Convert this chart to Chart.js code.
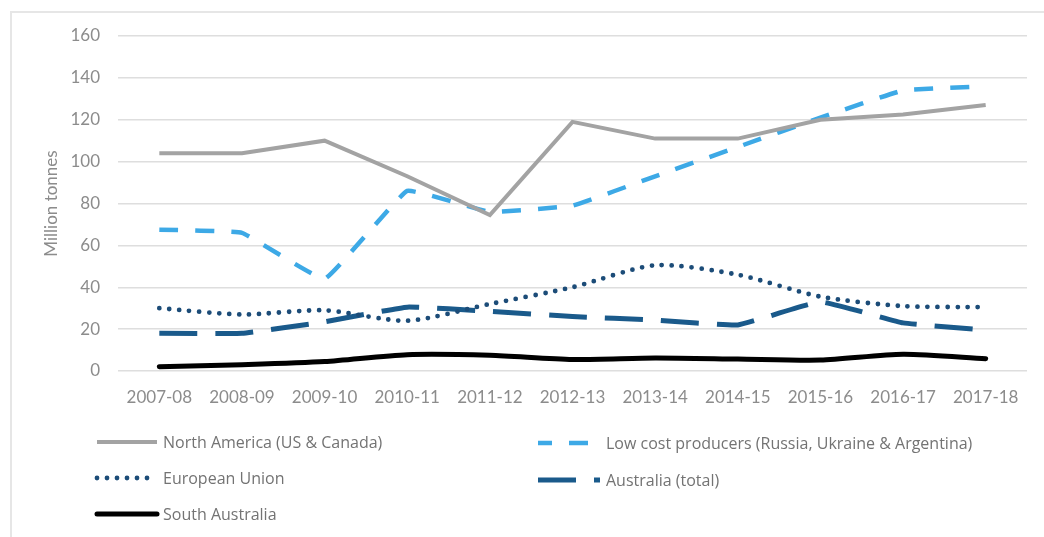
<!DOCTYPE html>
<html>
<head>
<meta charset="utf-8">
<title>Grain production by region</title>
<script src="https://cdn.jsdelivr.net/npm/chart.js@4/dist/chart.umd.min.js"></script>
<style>
  html, body { margin: 0; padding: 0; background: #fff; }
  #wrap { position: relative; width: 1044px; height: 537px; overflow: hidden; }
  #frame { position: absolute; left: 10px; top: 11px; right: -4px; bottom: -4px;
           border-left: 2px solid #e6e6e6; border-top: 2px solid #e6e6e6; }
  canvas { position: absolute; left: 0; top: 0; }
</style>
</head>
<body>
<div id="wrap">
  <div id="frame"></div>
  <canvas id="chart" width="1044" height="537"></canvas>
</div>
<script>
// Seasons along the horizontal axis
const seasons = ['2007-08', '2008-09', '2009-10', '2010-11', '2011-12', '2012-13',
                 '2013-14', '2014-15', '2015-16', '2016-17', '2017-18'];

// Production, million tonnes
const northAmerica   = [104, 104, 110, 93, 74.5, 119, 111, 111, 120, 122.5, 127];
const lowCost        = [67.5, 66, 44, 86, 76, 79, 93, 107, 121, 134, 136];
const europeanUnion  = [30, 27, 29, 24, 32, 40, 50.5, 46, 35.5, 31, 30.5];
const australiaTotal = [18, 18, 23.5, 30.5, 28.5, 26, 24.3, 22, 33, 23, 19.5];
const southAustralia = [2, 3, 4.5, 7.8, 7.5, 5.5, 6.2, 5.7, 5.2, 8, 5.9];

// Series names
const seriesNames = [
  'North America (US & Canada)',
  'Low cost producers (Russia, Ukraine & Argentina)',
  'European Union',
  'Australia (total)',
  'South Australia'
];

// Y axis range
const yMin = 0, yMax = 160, yStep = 20;

// Where each legend entry sits below the plot
const legendSlots = [
  { x: 97,  y: 442, len: 60, textX: 163, dashOffset: 0 },
  { x: 538, y: 443, len: 62, textX: 606, dashOffset: 5 },
  { x: 97,  y: 478, len: 58, textX: 163, dashOffset: 0 },
  { x: 538, y: 480, len: 62, textX: 606, dashOffset: 0 },
  { x: 97,  y: 514, len: 60, textX: 163, dashOffset: 0 }
];

const legendPlugin = {
  id: 'twoColumnLegend',
  afterDraw(chart) {
    const ctx = chart.ctx;
    chart.data.datasets.forEach((ds, i) => {
      const s = legendSlots[i];
      ctx.save();
      ctx.strokeStyle = ds.borderColor;
      ctx.lineWidth = ds.borderWidth;
      ctx.lineCap = ds.borderCapStyle || 'butt';
      ctx.setLineDash(ds.borderDash || []);
      ctx.lineDashOffset = s.dashOffset;
      ctx.beginPath();
      ctx.moveTo(s.x, s.y);
      ctx.lineTo(s.x + s.len, s.y);
      ctx.stroke();
      ctx.restore();
      ctx.save();
      ctx.fillStyle = '#737373';
      ctx.font = '16px "Open Sans", sans-serif';
      ctx.textBaseline = 'middle';
      ctx.fillText(ds.label, s.textX, s.y + 1);
      ctx.restore();
    });
  }
};

new Chart(document.getElementById('chart'), {
  type: 'line',
  data: {
    labels: seasons,
    datasets: [
      { label: seriesNames[0], data: northAmerica, borderColor: '#a3a3a3', borderWidth: 4,
        tension: 0, borderCapStyle: 'butt' },
      { label: seriesNames[1], data: lowCost, borderColor: '#3da9e6', borderWidth: 4.5,
        borderDash: [19, 17], tension: 0.08, borderCapStyle: 'butt' },
      { label: seriesNames[2], data: europeanUnion, borderColor: '#1c4c78', borderWidth: 4.8,
        borderDash: [0, 10], borderCapStyle: 'round', tension: 0.25 },
      { label: seriesNames[3], data: australiaTotal, borderColor: '#1a5a8b', borderWidth: 5,
        borderDash: [38, 18], tension: 0.1, borderCapStyle: 'butt' },
      { label: seriesNames[4], data: southAustralia, borderColor: '#000000', borderWidth: 5,
        tension: 0.25, borderCapStyle: 'round' }
    ]
  },
  options: {
    responsive: false,
    animation: false,
    layout: { padding: { top: 36, right: 17, bottom: 126, left: 0 } },
    elements: { point: { radius: 0, hoverRadius: 0 } },
    plugins: {
      legend: { display: false },
      tooltip: { enabled: false }
    },
    scales: {
      x: {
        offset: true,
        grid: { display: false, drawTicks: false },
        border: { display: false },
        ticks: {
          color: '#8c8c8c',
          font: { family: 'Lato', size: 17 },
          padding: 16,
          maxRotation: 0,
          autoSkip: false
        },
        afterFit(scale) { scale.height = 40; }
      },
      y: {
        min: yMin,
        max: yMax,
        grid: { color: '#dedede', lineWidth: 1.5, drawTicks: false },
        border: { display: false },
        ticks: {
          stepSize: yStep,
          color: '#8c8c8c',
          font: { family: 'Lato', size: 17 },
          padding: 18
        },
        title: {
          display: true,
          text: 'Million tonnes',
          color: '#8c8c8c',
          font: { family: 'Lato', size: 17 },
          padding: { top: 41, bottom: 0 }
        },
        afterFit(scale) { scale.width = 118; }
      }
    }
  },
  plugins: [legendPlugin]
});
</script>
</body>
</html>
